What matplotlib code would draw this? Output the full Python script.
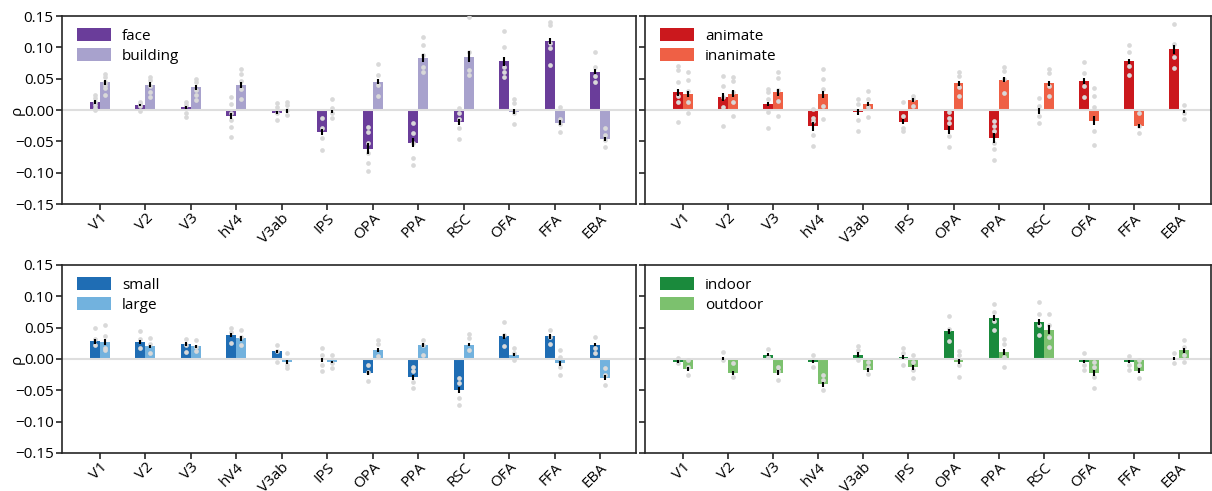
import matplotlib
matplotlib.use('Agg')
import matplotlib.pyplot as plt

rois = ['V1', 'V2', 'V3', 'hV4', 'V3ab', 'IPS', 'OPA', 'PPA', 'RSC', 'OFA', 'FFA', 'EBA']

# face / building
face_mean = [0.013, 0.008, 0.004, -0.009, -0.004, -0.035, -0.062, -0.052, -0.019, 0.078, 0.110, 0.061]
face_err = [0.003, 0.002, 0.003, 0.005, 0.003, 0.005, 0.009, 0.007, 0.005, 0.007, 0.005, 0.004]
face_pts = [
    [0.024, 0.019, 0.013, 0.008, 0.003, 0.000],
    [0.013, 0.010, 0.006, -0.002],
    [0.013, 0.008, -0.005, -0.011],
    [0.020, 0.010, -0.005, -0.016, -0.027, -0.043],
    [0.011, 0.005, -0.005, -0.016],
    [-0.012, -0.028, -0.045, -0.064],
    [-0.027, -0.035, -0.053, -0.069, -0.084, -0.098],
    [-0.020, -0.037, -0.052, -0.076, -0.087],
    [0.003, -0.005, -0.015, -0.029, -0.047],
    [0.126, 0.101, 0.069, 0.061, 0.052],
    [0.141, 0.136, 0.107, 0.099, 0.072],
    [0.093, 0.069, 0.054, 0.045],
]
building_mean = [0.044, 0.040, 0.036, 0.040, -0.001, -0.002, 0.045, 0.083, 0.085, -0.003, -0.020, -0.046]
building_err = [0.004, 0.004, 0.004, 0.005, 0.003, 0.002, 0.004, 0.006, 0.009, 0.004, 0.004, 0.003]
building_pts = [
    [0.057, 0.052, 0.045, 0.040, 0.035, 0.024],
    [0.053, 0.048, 0.038, 0.029, 0.021],
    [0.049, 0.044, 0.032, 0.024, 0.016],
    [0.065, 0.057, 0.046, 0.033, 0.017],
    [0.013, 0.008, 0.000, -0.008],
    [0.018, 0.003, -0.005, -0.013],
    [0.074, 0.056, 0.040, 0.022],
    [0.116, 0.104, 0.088, 0.069, 0.060],
    [0.148, 0.093, 0.064, 0.056],
    [0.018, 0.011, -0.005, -0.023],
    [0.004, -0.015, -0.022, -0.035],
    [-0.028, -0.040, -0.048, -0.059],
]

# animate / inanimate
animate_mean = [0.028, 0.021, 0.009, -0.026, -0.003, -0.019, -0.032, -0.044, -0.002, 0.046, 0.078, 0.097]
animate_err = [0.006, 0.006, 0.003, 0.007, 0.005, 0.004, 0.007, 0.008, 0.005, 0.005, 0.004, 0.007]
animate_pts = [
    [0.070, 0.064, 0.045, 0.022, 0.012, -0.019],
    [0.055, 0.038, 0.021, 0.005, -0.026],
    [0.033, 0.028, 0.018, -0.003, -0.028],
    [0.001, -0.012, -0.018, -0.040, -0.057],
    [0.017, 0.009, -0.016, -0.034],
    [0.012, -0.009, -0.028, -0.033],
    [-0.003, -0.012, -0.020, -0.042, -0.059],
    [-0.017, -0.025, -0.033, -0.052, -0.063, -0.080],
    [0.019, 0.007, -0.010, -0.021],
    [0.076, 0.059, 0.038, 0.020],
    [0.103, 0.092, 0.071, 0.056],
    [0.138, 0.105, 0.084, 0.067],
]
inanimate_mean = [0.026, 0.026, 0.028, 0.025, 0.009, 0.016, 0.043, 0.048, 0.043, -0.017, -0.025, -0.002]
inanimate_err = [0.005, 0.006, 0.005, 0.006, 0.003, 0.003, 0.004, 0.004, 0.004, 0.007, 0.003, 0.002]
inanimate_pts = [
    [0.060, 0.048, 0.030, 0.012, -0.004],
    [0.052, 0.046, 0.028, 0.013, -0.009],
    [0.061, 0.051, 0.032, 0.015, -0.009],
    [0.066, 0.049, 0.034, 0.006, -0.015],
    [0.030, 0.018, 0.004, -0.011],
    [0.023, 0.017, 0.007],
    [0.060, 0.054, 0.036, 0.023],
    [0.068, 0.063, 0.049, 0.027],
    [0.065, 0.059, 0.039, 0.022],
    [0.035, 0.022, 0.004, -0.033, -0.056],
    [-0.004, -0.025, -0.036],
    [0.008, -0.004, -0.015],
]

# small / large
small_mean = [0.028, 0.027, 0.024, 0.038, 0.012, -0.002, -0.022, -0.029, -0.049, 0.036, 0.036, 0.023]
small_err = [0.004, 0.003, 0.003, 0.003, 0.003, 0.003, 0.003, 0.004, 0.005, 0.004, 0.004, 0.003]
small_pts = [
    [0.049, 0.032, 0.023],
    [0.044, 0.032, 0.018],
    [0.032, 0.022, 0.011],
    [0.050, 0.043, 0.026],
    [0.022, 0.012, -0.004],
    [0.018, 0.007, -0.010, -0.019],
    [-0.010, -0.021, -0.035],
    [-0.012, -0.019, -0.037, -0.046],
    [-0.031, -0.039, -0.063, -0.074],
    [0.059, 0.038, 0.020],
    [0.047, 0.035, 0.024],
    [0.035, 0.018, 0.009],
]
large_mean = [0.027, 0.020, 0.020, 0.033, -0.005, -0.005, 0.014, 0.022, 0.023, 0.007, -0.007, -0.030]
large_err = [0.005, 0.003, 0.003, 0.004, 0.003, 0.002, 0.003, 0.003, 0.003, 0.003, 0.004, 0.004]
large_pts = [
    [0.054, 0.036, 0.018, 0.015],
    [0.034, 0.024, 0.010],
    [0.031, 0.019, 0.013],
    [0.046, 0.035, 0.022],
    [0.009, -0.010, -0.015],
    [0.006, -0.007, -0.014],
    [0.031, 0.024, 0.004],
    [0.030, 0.022, 0.006],
    [0.040, 0.034, 0.014],
    [0.018, 0.009, -0.002],
    [0.014, 0.003, -0.013, -0.025],
    [-0.015, -0.026, -0.042],
]

# indoor / outdoor
indoor_mean = [-0.004, 0.001, 0.007, -0.004, 0.007, 0.003, 0.044, 0.065, 0.059, -0.004, -0.004, 0.001]
indoor_err = [0.002, 0.002, 0.003, 0.003, 0.004, 0.003, 0.004, 0.005, 0.005, 0.003, 0.003, 0.002]
indoor_pts = [
    [0.002, -0.007],
    [0.011, -0.002],
    [0.016, 0.003],
    [0.006, -0.013],
    [0.020, 0.014, -0.001],
    [0.018, 0.009, -0.010],
    [0.068, 0.048, 0.029],
    [0.087, 0.075, 0.061, 0.046],
    [0.091, 0.072, 0.054, 0.038],
    [0.009, -0.010, -0.018],
    [0.005, -0.010, -0.018],
    [0.009, -0.007],
]
outdoor_mean = [-0.016, -0.022, -0.022, -0.040, -0.018, -0.013, -0.004, 0.011, 0.047, -0.022, -0.019, 0.014]
outdoor_err = [0.003, 0.003, 0.004, 0.004, 0.003, 0.004, 0.004, 0.005, 0.007, 0.005, 0.004, 0.004]
outdoor_pts = [
    [-0.002, -0.012, -0.026],
    [-0.007, -0.029],
    [-0.013, -0.019, -0.033],
    [-0.026, -0.034, -0.050],
    [-0.005, -0.013, -0.024],
    [0.007, -0.005, -0.018, -0.031],
    [0.012, 0.006, -0.010, -0.028],
    [0.032, 0.024, 0.003, -0.013],
    [0.072, 0.054, 0.035, 0.019],
    [-0.005, -0.013, -0.029, -0.047],
    [-0.002, -0.010, -0.031],
    [0.030, 0.019, 0.006, -0.004],
]

panels = [
    (('face', face_mean, face_err, face_pts, '#6a3d9a'),
     ('building', building_mean, building_err, building_pts, '#a8a2cd')),
    (('animate', animate_mean, animate_err, animate_pts, '#cb181d'),
     ('inanimate', inanimate_mean, inanimate_err, inanimate_pts, '#ef6045')),
    (('small', small_mean, small_err, small_pts, '#1f6db4'),
     ('large', large_mean, large_err, large_pts, '#72b2de')),
    (('indoor', indoor_mean, indoor_err, indoor_pts, '#1a8a3c'),
     ('outdoor', outdoor_mean, outdoor_err, outdoor_pts, '#7cc16e')),
]

plt.rcParams['font.family'] = ['Open Sans', 'DejaVu Sans']
plt.rcParams['font.size'] = 11

fig = plt.figure(figsize=(12.12, 4.91), dpi=100)
W, H = 1212., 491.
boxes = [(62, 16, 636, 204), (645, 16, 1211, 204),
         (62, 265, 636, 453), (645, 265, 1211, 453)]
# tick positions in pixels, used for xlim
first_last = [(100, 600), (683, 1179), (100, 600), (683, 1179)]

bw = 0.22
spine_c = '#262626'
for k, (pair, box) in enumerate(zip(panels, boxes)):
    x0, y0, x1, y1 = box
    ax = fig.add_axes([x0 / W, 1 - y1 / H, (x1 - x0) / W, (y1 - y0) / H])
    xs = list(range(len(rois)))
    for j, (name, mean, err, pts, col) in enumerate(pair):
        off = -bw / 2 if j == 0 else bw / 2
        pos = [x + off for x in xs]
        ax.bar(pos, mean, width=bw, color=col, label=name, zorder=1)
        for p, vals in zip(pos, pts):
            ax.plot([p] * len(vals), vals, 'o', color='#d9d9d9', markersize=3.4,
                    markeredgewidth=0, zorder=3)
        ax.errorbar(pos, mean, yerr=err, fmt='none', ecolor='black',
                    elinewidth=1.5, capsize=0, zorder=4)
    ax.axhline(0, color='#dedede', lw=1.5, zorder=2)

    p0, p1 = first_last[k]
    step = (p1 - p0) / 11.
    ax.set_xlim(-(p0 - x0) / step, 11 + (x1 - p1) / step)
    ax.set_ylim(-0.15, 0.15)
    ax.set_yticks([-0.15, -0.10, -0.05, 0.0, 0.05, 0.10, 0.15])
    ax.set_xticks(xs)
    ax.set_xticklabels(rois, rotation=45, ha='right', rotation_mode='anchor')
    if k % 2 == 0:
        ax.set_yticklabels(['\u22120.15', '\u22120.10', '\u22120.05', '0.00',
                            '0.05', '0.10', '0.15'])
        ax.set_ylabel('\u03c1', labelpad=-7)
    else:
        ax.set_yticklabels([])
    for s in ax.spines.values():
        s.set_color(spine_c)
        s.set_linewidth(1.2)
    ax.tick_params(direction='out', length=4, width=1.2, color=spine_c,
                   labelsize=11, pad=2)
    ax.tick_params(axis='x', pad=1)
    ax.legend(loc='upper left', frameon=False, fontsize=11, handlelength=2.2,
              handleheight=0.9, borderaxespad=0.4, labelspacing=0.3,
              handletextpad=0.75, bbox_to_anchor=(0.005, 1))

fig.savefig('out.png', dpi=100)
